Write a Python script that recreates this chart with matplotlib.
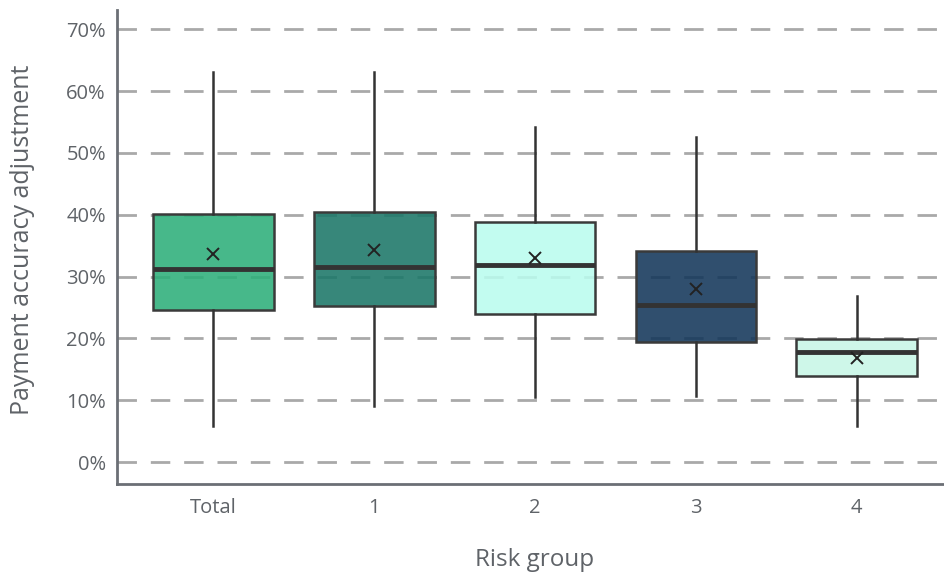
import matplotlib.pyplot as plt
from matplotlib.ticker import FuncFormatter
from matplotlib.colors import to_rgb

plt.rcParams['font.family'] = ['Open Sans', 'DejaVu Sans']

# data (percent)
groups = ["Total", "1", "2", "3", "4"]
whisker_low = [5.8, 9.1, 10.5, 10.7, 5.8]
q1 = [24.6, 25.2, 23.9, 19.4, 13.9]
median = [31.2, 31.5, 31.8, 25.4, 17.8]
q3 = [40.1, 40.4, 38.8, 34.1, 19.9]
whisker_high = [63.0, 63.0, 54.2, 52.5, 26.8]
mean = [33.6, 34.3, 33.0, 28.0, 16.8]
colors = ["#46B98A", "#36877A", "#C2FCF0", "#2F4E6E", "#CFF7E9"]

stats = []
for i, g in enumerate(groups):
    stats.append({"label": g, "whislo": whisker_low[i], "q1": q1[i], "med": median[i],
                  "q3": q3[i], "whishi": whisker_high[i], "mean": mean[i], "fliers": []})


def see_through(c, a=0.88):
    # darker base so that with alpha over white it shows the target colour
    r, g, b = to_rgb(c)
    return tuple(max(0.0, (v - (1 - a)) / a) for v in (r, g, b)) + (a,)


fig = plt.figure(figsize=(9.45, 5.73), dpi=100)
ax = fig.add_axes([0.1238, 0.1553, 0.8762, 0.8272])

grey = "#5f6368"
for y in range(0, 71, 10):
    ax.axhline(y, color="#a9a9a9", lw=2, ls=(0, (7, 5)), zorder=1)

bp = ax.bxp(stats, positions=range(len(groups)), widths=0.75, patch_artist=True,
            showmeans=True, showcaps=False,
            boxprops=dict(edgecolor="#3a3a3a", linewidth=1.8),
            whiskerprops=dict(color="#333333", linewidth=1.8),
            medianprops=dict(color="#333333", linewidth=3.5),
            meanprops=dict(marker="x", markeredgecolor="#222222", markersize=9, markeredgewidth=1.4))
for patch, c in zip(bp["boxes"], colors):
    patch.set_facecolor(see_through(c))
    patch.set_zorder(2)
for med in bp["medians"]:
    med.set_zorder(4)
for m in bp["means"]:
    m.set_zorder(5)

ax.set_xlim(-0.6, 4.55)
ax.set_ylim(-3.56, 73.1)
ax.set_yticks(range(0, 71, 10))
ax.yaxis.set_major_formatter(FuncFormatter(lambda v, p: f"{v:.0f}%"))
ax.set_xticks(range(len(groups)))
ax.set_xticklabels(groups)

for s in ["top", "right"]:
    ax.spines[s].set_visible(False)
for s in ["left", "bottom"]:
    ax.spines[s].set_color("#6b6f75")
    ax.spines[s].set_linewidth(2)
ax.tick_params(length=0, labelsize=14.5, colors=grey, pad=8)
ax.tick_params(axis="x", pad=10)

ax.set_ylabel("Payment accuracy adjustment", fontsize=18, color=grey)
ax.yaxis.set_label_coords(-0.099, 0.515)
ax.set_xlabel("Risk group", fontsize=17.5, color=grey)
ax.xaxis.set_label_coords(0.5048, -0.136)

fig.savefig("out.png", dpi=100)
